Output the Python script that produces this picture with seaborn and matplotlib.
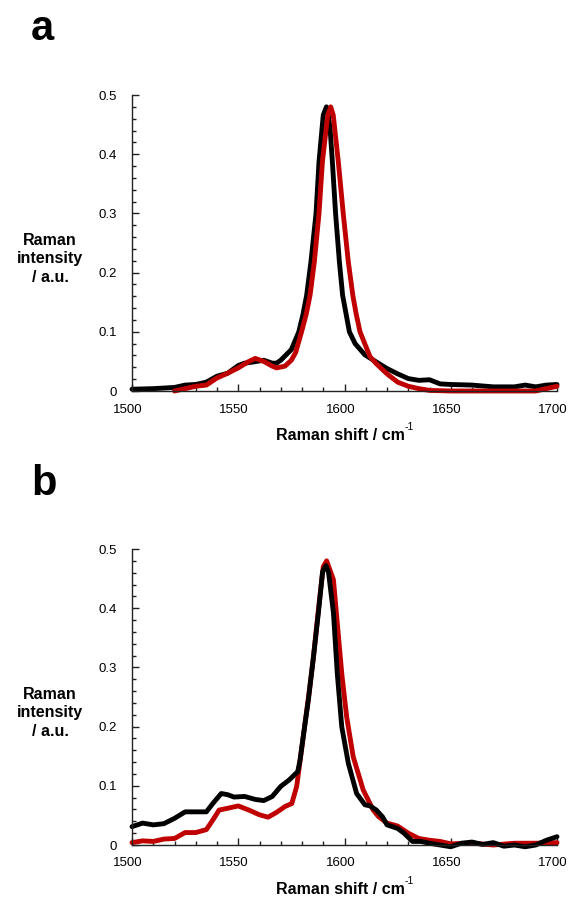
import numpy as np
import pandas as pd
import matplotlib
matplotlib.use("Agg")
import matplotlib.pyplot as plt
import matplotlib.transforms as mtransforms
from matplotlib.ticker import MultipleLocator, FixedLocator
import seaborn as sns

sns.set_theme(style="white")
plt.rcParams['font.family'] = ['Liberation Sans', 'DejaVu Sans']
plt.rcParams['text.color'] = 'black'

# ---- Panel a data ----
a_black_x = [1500, 1510, 1515, 1520, 1525, 1530, 1535, 1540, 1545, 1550, 1553, 1557, 1562, 1566,
             1568, 1570, 1575, 1578.5, 1580.5, 1582.2, 1584.2, 1586.6, 1588, 1590, 1591.5, 1592.2,
             1593.2, 1594.3, 1595.8, 1597.6, 1599.1, 1602.3, 1605, 1609.6, 1615, 1620, 1625, 1630,
             1635, 1640, 1645, 1650, 1660, 1670, 1680, 1685, 1690, 1695, 1700]
a_black_y = [0.003, 0.004, 0.005, 0.006, 0.010, 0.011, 0.015, 0.025, 0.030, 0.043, 0.047, 0.049, 0.052, 0.047,
             0.047, 0.052, 0.070, 0.100, 0.130, 0.162, 0.218, 0.300, 0.387, 0.466, 0.480, 0.470,
             0.444, 0.387, 0.300, 0.218, 0.162, 0.100, 0.080, 0.061, 0.049, 0.038, 0.029, 0.021,
             0.018, 0.019, 0.012, 0.011, 0.010, 0.007, 0.007, 0.010, 0.007, 0.010, 0.011]

a_red_x = [1520, 1525, 1530, 1535, 1540, 1545, 1550, 1555, 1558, 1562, 1566, 1568, 1572, 1575, 1577,
           1579.8, 1582, 1583.8, 1585.8, 1588, 1589.6, 1592.1, 1593.5, 1594.7, 1597.1, 1599.4, 1601.8,
           1603.9, 1605.5, 1607.3, 1612, 1615, 1620, 1625, 1630, 1635, 1640, 1650, 1660, 1680, 1690,
           1695, 1700]
a_red_y = [0.000, 0.004, 0.008, 0.010, 0.022, 0.030, 0.039, 0.050, 0.055, 0.050, 0.042, 0.039, 0.042, 0.052, 0.065,
           0.100, 0.130, 0.162, 0.218, 0.300, 0.387, 0.466, 0.480, 0.466, 0.387, 0.300, 0.218,
           0.162, 0.130, 0.100, 0.058, 0.046, 0.029, 0.015, 0.008, 0.004, 0.001, 0.000, 0.000, 0.000, 0.000,
           0.004, 0.008]

# ---- Panel b data ----
b_black_x = [1500, 1505, 1510, 1515, 1520, 1525, 1530, 1535, 1538, 1542, 1545, 1548, 1553, 1558, 1562,
             1566, 1570, 1574, 1578, 1579.1, 1581, 1583, 1585.4, 1587.7, 1589.7, 1591.3, 1592.5, 1594.8,
             1596.6, 1598.7, 1601.8, 1605.7, 1609.6, 1612, 1615, 1618, 1620, 1625, 1628, 1632, 1636,
             1640, 1645, 1650, 1655, 1660, 1665, 1670, 1675, 1680, 1685, 1690, 1695, 1700]
b_black_y = [0.031, 0.037, 0.034, 0.036, 0.045, 0.056, 0.056, 0.056, 0.070, 0.087, 0.085, 0.081, 0.082, 0.077, 0.075,
             0.082, 0.099, 0.110, 0.124, 0.144, 0.194, 0.245, 0.318, 0.392, 0.462, 0.472, 0.460, 0.392,
             0.290, 0.200, 0.138, 0.087, 0.068, 0.066, 0.059, 0.047, 0.034, 0.028, 0.020, 0.006, 0.006,
             0.003, 0.000, -0.003, 0.003, 0.005, 0.001, 0.004, -0.002, 0.000, -0.003, 0.000, 0.008, 0.014]

b_red_x = [1500, 1505, 1510, 1515, 1520, 1525, 1530, 1535, 1538, 1541, 1545, 1550, 1555, 1560, 1564,
           1568, 1572, 1575.2, 1577.5, 1581, 1583.5, 1585.4, 1587.7, 1590, 1591.6, 1594.8, 1596.6,
           1598.7, 1601, 1604.1, 1608.8, 1613.5, 1616, 1620, 1625, 1630, 1635, 1640, 1645, 1650, 1660,
           1670, 1680, 1690, 1700]
b_red_y = [0.004, 0.007, 0.006, 0.010, 0.011, 0.021, 0.021, 0.026, 0.042, 0.059, 0.062, 0.066, 0.059, 0.051, 0.047,
           0.055, 0.065, 0.070, 0.099, 0.194, 0.262, 0.318, 0.397, 0.470, 0.480, 0.448, 0.375,
           0.290, 0.217, 0.149, 0.093, 0.059, 0.048, 0.037, 0.032, 0.020, 0.011, 0.008, 0.006, 0.002, 0.003,
           0.000, 0.003, 0.003, 0.004]

x_ticks = [1500, 1550, 1600, 1650, 1700]
y_ticks = [0, 0.1, 0.2, 0.3, 0.4, 0.5]
y_ticklabels = ["0", "0.1", "0.2", "0.3", "0.4", "0.5"]

RED = "#c00000"
W, H = 570, 898
fig = plt.figure(figsize=(W / 100, H / 100), dpi=100)

def px_axes(left, right, top, bottom):
    return fig.add_axes([left / W, 1 - bottom / H, (right - left) / W, (bottom - top) / H])

ax_a = px_axes(132, 557, 95, 391)
ax_b = px_axes(132, 557, 549, 845)

shift_left = mtransforms.ScaledTranslation(-4 / 100, 0, fig.dpi_scale_trans)

def draw(ax, series):
    for xs, ys, col in series:
        df = pd.DataFrame({"x": xs, "y": ys})
        sns.lineplot(data=df, x="x", y="y", ax=ax, color=col, linewidth=3.5,
                     sort=False, estimator=None, solid_joinstyle="round", solid_capstyle="round")
    ax.set_xlim(1500, 1700)
    ax.set_ylim(0, 0.5)
    ax.set_xlabel("")
    ax.set_ylabel("")
    ax.xaxis.set_major_locator(FixedLocator(x_ticks))
    ax.xaxis.set_minor_locator(MultipleLocator(10))
    ax.yaxis.set_major_locator(FixedLocator(y_ticks))
    ax.yaxis.set_minor_locator(MultipleLocator(0.02))
    ax.set_xticklabels([str(t) for t in x_ticks])
    ax.set_yticklabels(y_ticklabels)
    for s in ["top", "right"]:
        ax.spines[s].set_visible(False)
    for s in ["left", "bottom"]:
        ax.spines[s].set_color("#222222")
        ax.spines[s].set_linewidth(1.0)
    ax.tick_params(axis="both", which="major", direction="in", length=5, width=1,
                   color="#222222", labelsize=9.5, labelcolor="black",
                   bottom=True, left=True, top=False, right=False)
    ax.tick_params(axis="x", which="major", pad=9)
    ax.tick_params(axis="y", which="major", pad=11)
    ax.tick_params(axis="both", which="minor", direction="in", length=3, width=1,
                   color="#222222", bottom=True, left=True, top=False, right=False)
    for lbl in ax.get_xticklabels():
        lbl.set_transform(lbl.get_transform() + shift_left)
    ax.patch.set_alpha(0)

draw(ax_a, [(a_black_x, a_black_y, "black"), (a_red_x, a_red_y, RED)])
draw(ax_b, [(b_red_x, b_red_y, RED), (b_black_x, b_black_y, "black")])

for ax in (ax_a, ax_b):
    for ln in ax.get_lines():
        ln.set_clip_on(False)

def ftext(x, y, s, **kw):
    return fig.text(x / W, 1 - y / H, s, **kw)

ftext(42, 40, "a", fontsize=30, fontweight="bold", ha="center", va="baseline", color="black")
ftext(44, 495, "b", fontsize=30, fontweight="bold", ha="center", va="baseline", color="black")

for yc in (259, 713):
    ftext(50, yc, "Raman\nintensity\n/ a.u.", fontsize=11.5, fontweight="bold",
          ha="center", va="center", linespacing=1.32, color="black")

renderer = fig.canvas.get_renderer()
for yc in (435, 889):
    t = ftext(340, yc, "Raman shift / cm", fontsize=11.5, fontweight="bold",
              ha="center", va="center", color="black")
    bb = t.get_window_extent(renderer)
    ftext(bb.x1 + 0.5, yc - 8, "-1", fontsize=7.5, fontweight="normal",
          ha="left", va="center", color="black")

fig.savefig("out.png", dpi=100, facecolor="white")
